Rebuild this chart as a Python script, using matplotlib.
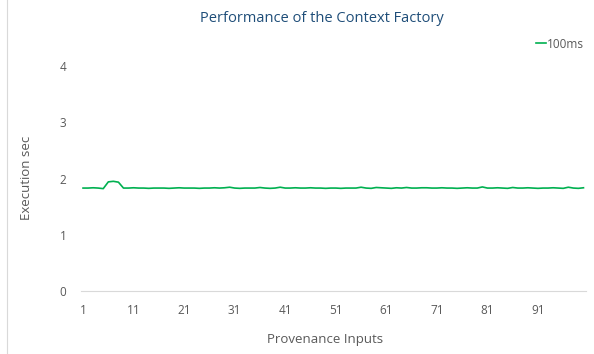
import matplotlib.pyplot as plt
import numpy as np

plt.rcParams['font.family'] = ['Open Sans', 'DejaVu Sans']

# execution time (sec) for each provenance input, 100ms series
inputs = list(range(1, 101))
exec_100ms = [
    1.83, 1.83, 1.835, 1.83, 1.82, 1.94, 1.95, 1.935, 1.83, 1.83,
    1.835, 1.83, 1.83, 1.825, 1.83, 1.83, 1.83, 1.825, 1.83, 1.835,
    1.83, 1.83, 1.83, 1.825, 1.83, 1.83, 1.835, 1.83, 1.835, 1.845,
    1.83, 1.825, 1.83, 1.83, 1.83, 1.84, 1.83, 1.825, 1.83, 1.845,
    1.83, 1.83, 1.835, 1.83, 1.83, 1.835, 1.83, 1.83, 1.825, 1.83,
    1.83, 1.825, 1.83, 1.83, 1.83, 1.845, 1.83, 1.825, 1.84, 1.835,
    1.83, 1.825, 1.835, 1.83, 1.84, 1.83, 1.83, 1.835, 1.835, 1.83,
    1.83, 1.835, 1.83, 1.83, 1.825, 1.83, 1.835, 1.83, 1.83, 1.85,
    1.83, 1.83, 1.835, 1.83, 1.825, 1.84, 1.83, 1.83, 1.835, 1.83,
    1.825, 1.83, 1.83, 1.835, 1.83, 1.825, 1.845, 1.83, 1.825, 1.835,
]
x_ticks = list(range(1, 100, 10))
y_ticks = [0, 1, 2, 3, 4]

text_gray = '#595959'

fig = plt.figure(figsize=(5.94, 3.54), dpi=100)
ax = fig.add_axes([80.5 / 594, 1 - 291 / 354, (586 - 80.5) / 594, (291 - 66) / 354])

ax.plot(inputs, exec_100ms, color='#00B050', linewidth=1.2, label='100ms')

ax.set_xlim(0.5, 100.5)
ax.set_ylim(0, 4)
ax.set_xticks(x_ticks)
ax.set_yticks(y_ticks)
ax.tick_params(length=0, labelsize=8.5, colors=text_gray)
ax.tick_params(axis='x', pad=9)
ax.tick_params(axis='y', pad=10)

for side in ['top', 'right', 'left']:
    ax.spines[side].set_visible(False)
ax.spines['bottom'].set_color('#D9D9D9')
ax.spines['bottom'].set_linewidth(0.8)

ax.set_xlabel('Provenance Inputs', fontsize=9.5, color=text_gray)
ax.set_ylabel('Execution sec', fontsize=9.5, color=text_gray)
ax.xaxis.set_label_coords(325 / 594, 1 - 339 / 354, transform=fig.transFigure)
ax.yaxis.set_label_coords(27 / 594, 1 - 178 / 354, transform=fig.transFigure)
ax.xaxis.label.set_va('center')
ax.yaxis.label.set_va('center')
fig.text(322 / 594, 1 - 19 / 354, 'Performance of the Context Factory',
         ha='center', va='center', fontsize=10.5, color='#1F4E79')

ax.legend(loc='center right', bbox_to_anchor=(584 / 594, 1 - 44 / 354),
          bbox_transform=fig.transFigure, frameon=False, fontsize=8.5,
          handlelength=0.9, handletextpad=0.05, labelcolor=text_gray,
          borderaxespad=0, borderpad=0)

# thin border on the left edge of the chart area
fig.add_artist(plt.Line2D([7 / 594, 7 / 594], [0, 1], color='#D9D9D9',
                          linewidth=0.8, transform=fig.transFigure))

fig.savefig('out.png', dpi=100)
plt.close(fig)
